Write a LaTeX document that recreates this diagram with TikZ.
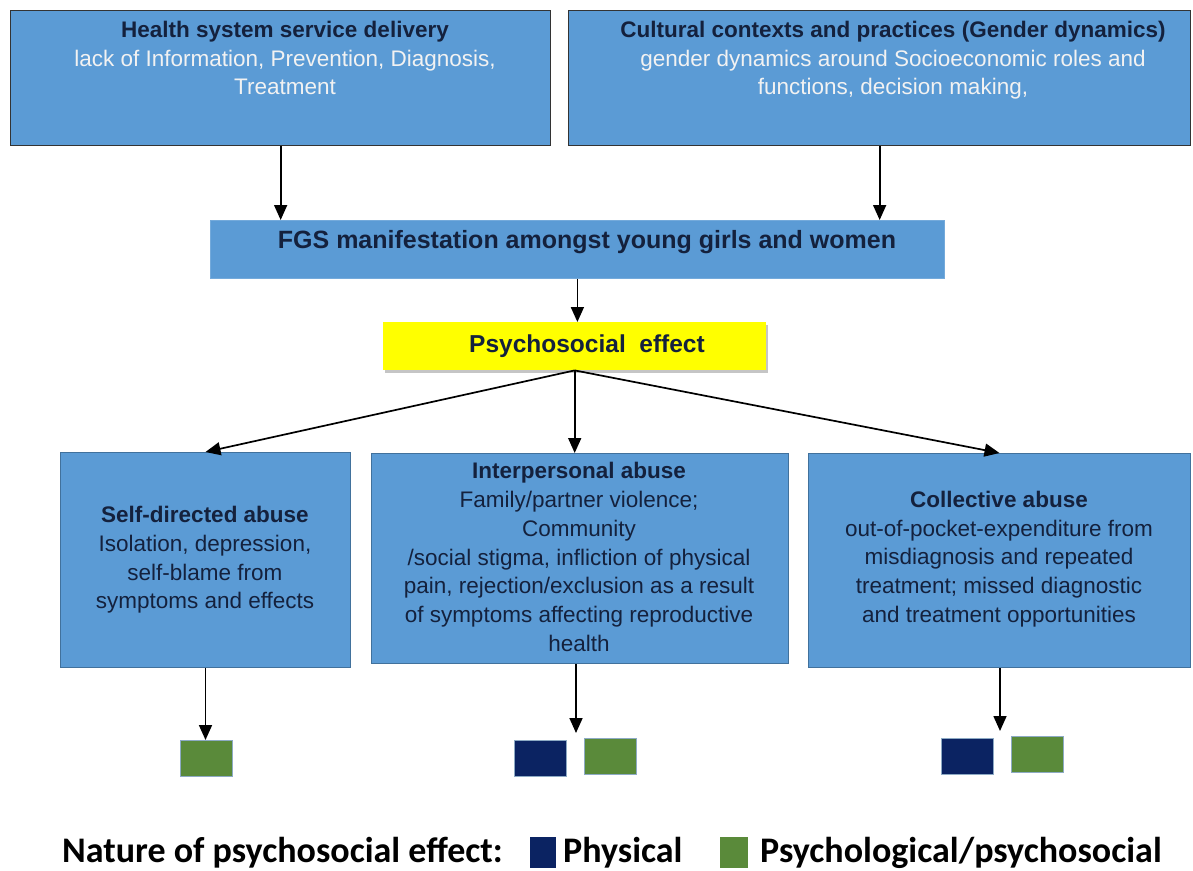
\documentclass[tikz,border=0pt]{standalone}
\usepackage{fontspec}
\setmainfont{Liberation Sans}
\newfontfamily\legendfont{Carlito}
\usetikzlibrary{arrows.meta,shadows}
\definecolor{boxblue}{HTML}{5B9BD5}
\definecolor{boxedge}{HTML}{41719C}
\definecolor{navy}{HTML}{0B2362}
\definecolor{grn}{HTML}{5A8A3A}
\definecolor{txtdark}{HTML}{14213D}
\definecolor{txtlight}{HTML}{F2F2F2}
\definecolor{psyyellow}{HTML}{FFFF00}
\begin{document}
\begin{tikzpicture}[x=1pt,y=-1pt,
  topbox/.style={draw=black!80, line width=1.3pt, fill=boxblue, anchor=north west, inner sep=0pt},
  lowbox/.style={draw=boxedge, line width=1pt, fill=boxblue, anchor=north west, inner sep=0pt},
  txt/.style={align=center, inner sep=0pt, text=txtdark, font=\fontsize{22.5}{28.7}\selectfont},
  sq/.style={anchor=north west, inner sep=0pt, minimum width=52pt, minimum height=36pt, draw=boxedge!60, line width=0.8pt},
  arr/.style={line width=1.7pt, -{Triangle[width=13pt,length=15pt]}},
  lgtxt/.style={anchor=west, inner sep=0pt, font=\legendfont\bfseries\fontsize{36}{40}\selectfont}
]
\useasboundingbox (0,0) rectangle (1193,870);

% top boxes
\node[topbox, minimum width=540pt, minimum height=135pt] (hs) at (10,10) {};
\node[txt, anchor=north] (hst) at (285,21) {\textbf{Health system service delivery}\\
  \textcolor{txtlight}{lack of Information, Prevention, Diagnosis,}\\
  \textcolor{txtlight}{Treatment}};
\node[topbox, minimum width=622pt, minimum height=135pt] (cc) at (568,10) {};
\node[txt, anchor=north] (cct) at (893,21) {\textbf{Cultural contexts and practices (Gender dynamics)}\\
  \textcolor{txtlight}{gender dynamics around Socioeconomic roles and}\\
  \textcolor{txtlight}{functions, decision making,}};

% FGS box
\node[draw=boxblue!85!white, line width=0.8pt, fill=boxblue, anchor=north west, inner sep=0pt,
      minimum width=734pt, minimum height=58pt] (fgs) at (210,220) {};
\node[txt, font=\fontsize{25}{30}\selectfont\bfseries] (fgst) at (587,242) {FGS manifestation amongst young girls and women};

% psychosocial
\node[fill=psyyellow, anchor=north west, inner sep=0pt, minimum width=383pt, minimum height=48pt,
      drop shadow={shadow xshift=2pt, shadow yshift=-3pt, fill=black!45}] (ps) at (383,322) {};
\node[txt, font=\fontsize{24.5}{30}\selectfont\bfseries] (pst) at (587,346) {Psychosocial\ \ effect};

% lower boxes
\node[lowbox, minimum width=290pt, minimum height=215pt] (sd) at (60,452) {};
\node[txt] (sdt) at (205,560) {\textbf{Self-directed abuse}\\Isolation, depression,\\self-blame from\\symptoms and effects};
\node[lowbox, minimum width=417pt, minimum height=210pt] (ip) at (371,453) {};
\node[txt] (ipt) at (579,557) {\textbf{Interpersonal abuse}\\Family/partner violence;\\Community\\/social stigma, infliction of physical\\pain, rejection/exclusion as a result\\of symptoms affecting reproductive\\health};
\node[lowbox, minimum width=382pt, minimum height=214pt] (co) at (808,453) {};
\node[txt] (cot) at (999,559) {\textbf{Collective abuse}\\out-of-pocket-expenditure from\\misdiagnosis and repeated\\treatment; missed diagnostic\\and treatment opportunities};

% squares
\node[sq, fill=grn] (sdg) at (180,740) {};
\node[sq, fill=navy] (ipn) at (514,740) {};
\node[sq, fill=grn] (ipg) at (584,738) {};
\node[sq, fill=navy] (con) at (941,738) {};
\node[sq, fill=grn] (cog) at (1011,736) {};

% connectors
\draw[arr] (hs.south) -- (hs.south |- fgs.north);
\draw[arr] (cc.south) -- (cc.south |- fgs.north);
\draw[arr] (fgs.south) -- (fgs.south |- ps.north);
\draw[arr] (ps.south) -- (sd.north);
\draw[arr] (ps.south) -- (ps.south |- ip.north);
\draw[arr] (ps.south) -- (co.north);
\draw[arr] (sd.south) -- (sd.south |- sdg.north);
\coordinate (ipend) at (576,733);
\coordinate (coend) at (1000,731);
\draw[arr] (ip.south -| ipend) -- (ipend);
\draw[arr] (co.south -| coend) -- (coend);

% legend
\node[lgtxt] (lg) at (62,853) {Nature of psychosocial effect:};
\node[anchor=north west, inner sep=0pt, minimum width=26pt, minimum height=31pt, fill=navy] (lgn) at (530,837) {};
\node[lgtxt] (lgnt) at (563,853) {Physical};
\node[anchor=north west, inner sep=0pt, minimum width=28pt, minimum height=31pt, fill=grn] (lgg) at (720,837) {};
\node[lgtxt] (lggt) at (760,853) {Psychological/psychosocial};
\end{tikzpicture}
\end{document}
